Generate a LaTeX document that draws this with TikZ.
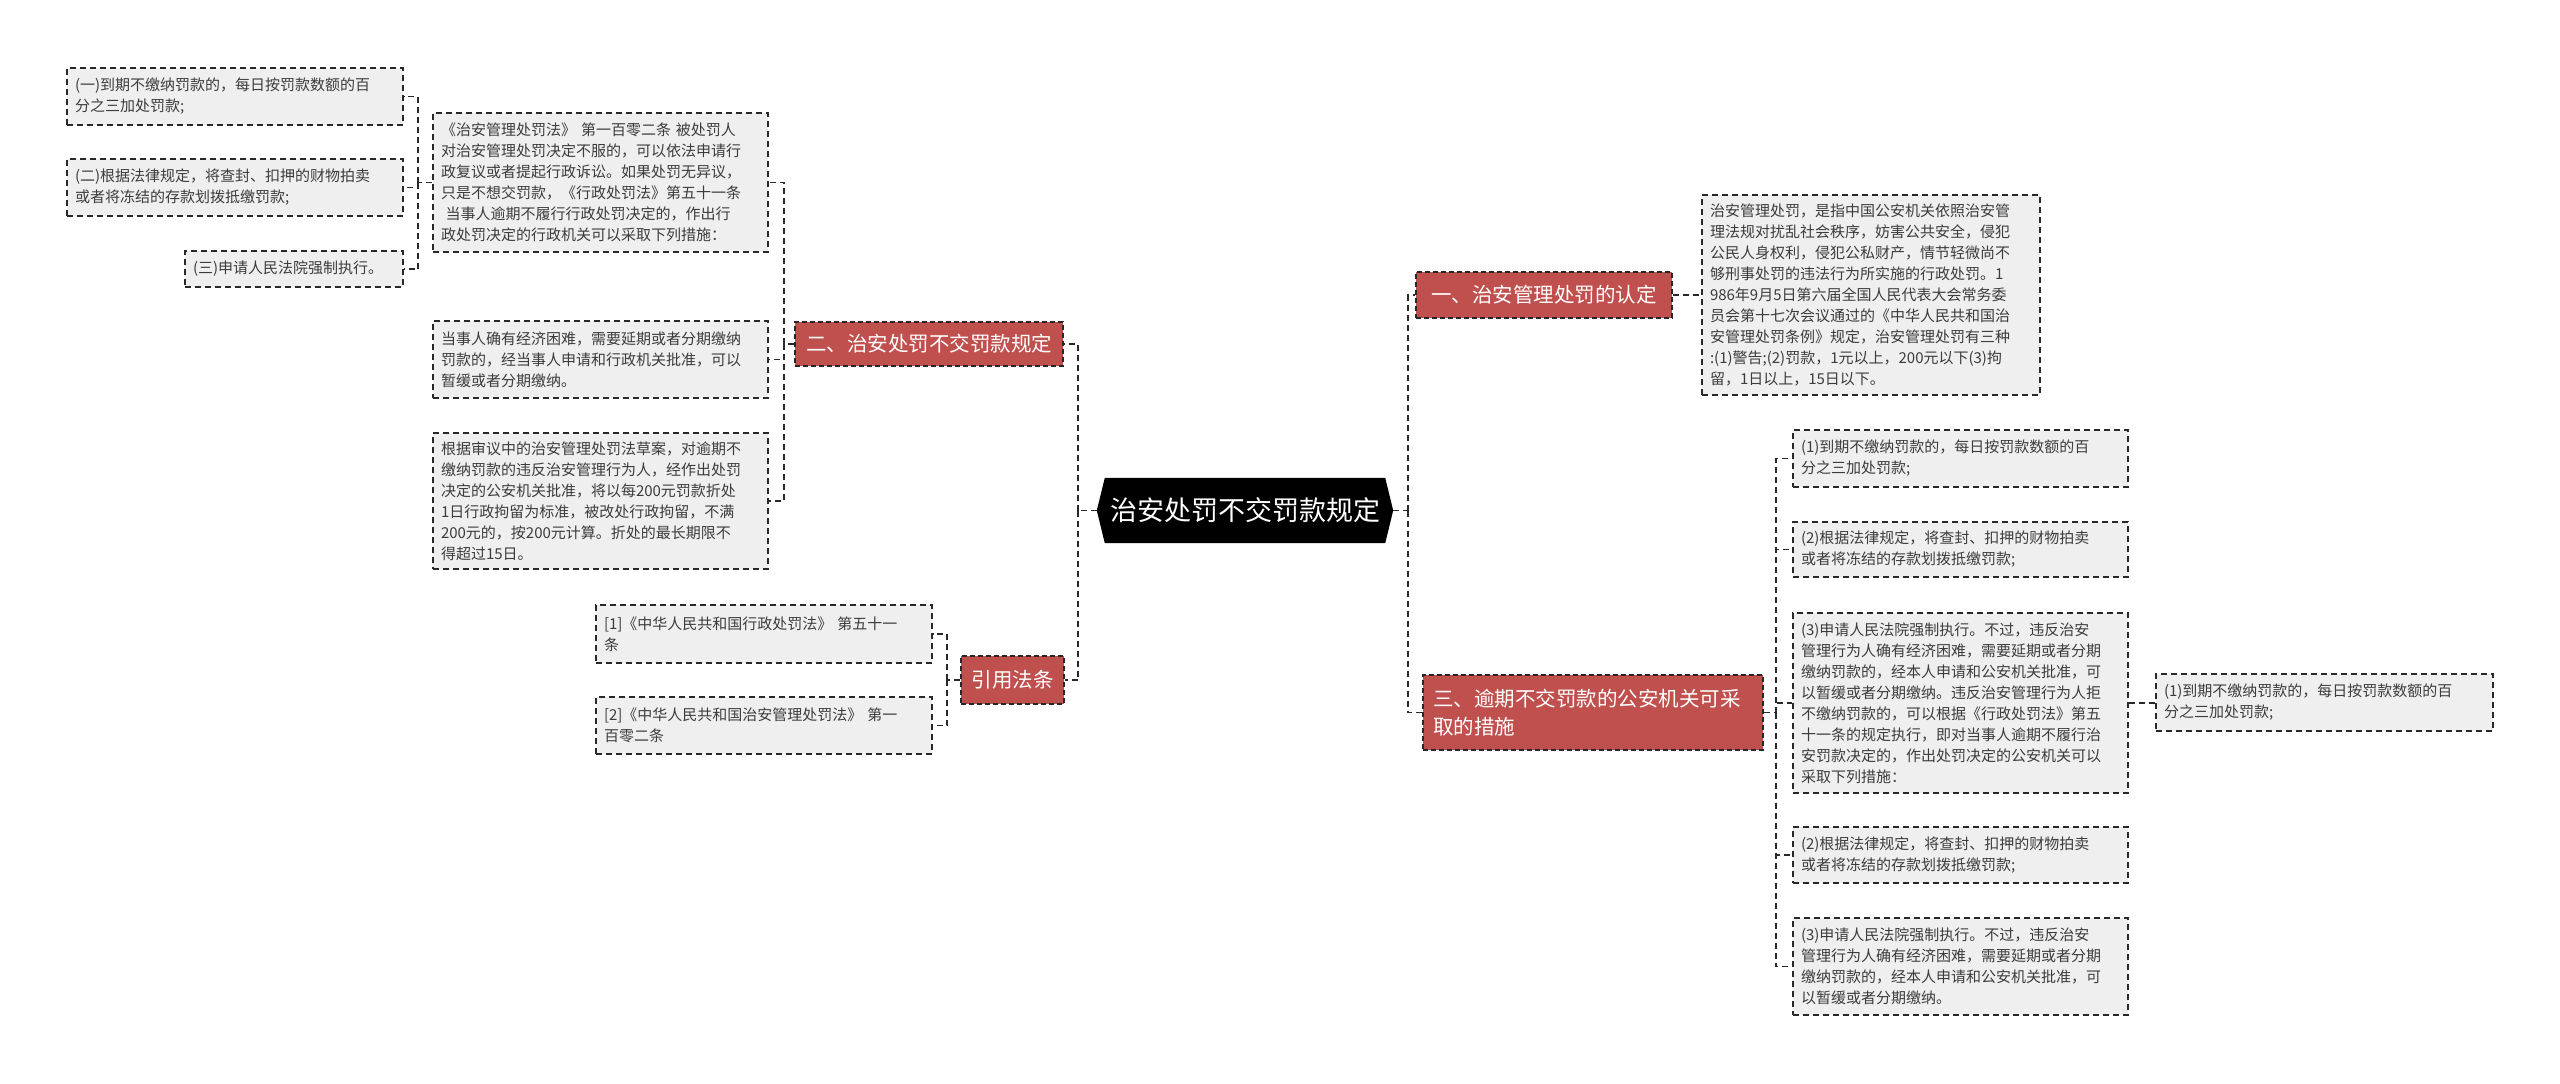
\documentclass[tikz,border=0pt]{standalone}
\usepackage{fontspec}
\setmainfont{Noto Sans CJK SC}
\usetikzlibrary{calc}
\definecolor{redfill}{RGB}{192,80,77}
\definecolor{leaffill}{RGB}{239,239,239}
\definecolor{bordc}{RGB}{40,40,40}
\definecolor{txtc}{RGB}{60,60,60}
\tikzset{
 leaf/.style={rectangle, draw=bordc, line width=1.4pt, dash pattern=on 6pt off 4pt, fill=leaffill, text=txtc, font=\fontsize{15}{21}\selectfont, align=left, inner xsep=8pt, inner ysep=0pt},
 redbox/.style={rectangle, draw=bordc, line width=1.2pt, dash pattern=on 5pt off 3pt, fill=redfill, text=white, font=\fontsize{20.5}{28}\selectfont, align=center, inner xsep=10pt, inner ysep=0pt},
 conn/.style={draw=bordc, line width=1.4pt, dash pattern=on 6pt off 4pt},
}
\begin{document}
\begin{tikzpicture}[x=1pt,y=-1pt]
\fill[white] (0,0) rectangle (2560,1084);
\useasboundingbox (0,0) rectangle (2560,1084);

% root
\node[rectangle, minimum width=296, minimum height=65, inner sep=0pt] (root) at (1245,510.5) {};
\fill[black] (root.west) -- ($(root.north west)+(8,0)$) -- ($(root.north east)+(-8,0)$) -- (root.east) -- ($(root.south east)+(-8,0)$) -- ($(root.south west)+(8,0)$) -- cycle;
\node[text=white, font=\fontsize{27}{32}\selectfont] (roottext) at (root.center) {治安处罚不交罚款规定};

% red nodes
\node[redbox, minimum width=256, minimum height=46] (E1) at (1544,295) {一、治安管理处罚的认定};
\node[redbox, minimum width=268, minimum height=44] (E2) at (929,344) {二、治安处罚不交罚款规定};
\node[redbox, minimum width=103, minimum height=48] (E3) at (1012.5,680) {引用法条};
\node[redbox, minimum width=340, minimum height=75, align=left, text width=320] (E4) at (1593,712.5) {三、逾期不交罚款的公安机关可采\\取的措施};

% far left leaves
\node[leaf, minimum width=336, minimum height=57, text width=320] (L1) at (235,96.5) {(一)到期不缴纳罚款的，每日按罚款数额的百\\分之三加处罚款;};
\node[leaf, minimum width=336, minimum height=57, text width=320] (L2) at (235,187.5) {(二)根据法律规定，将查封、扣押的财物拍卖\\或者将冻结的存款划拨抵缴罚款;};
\node[leaf, minimum width=218, minimum height=36, text width=202] (L3) at (294,269) {(三)申请人民法院强制执行。};

% children of E2
\node[leaf, minimum width=335, minimum height=139, text width=319] (A1) at (600.5,182.5) {《治安管理处罚法》 第一百零二条 被处罚人\\对治安管理处罚决定不服的，可以依法申请行\\政复议或者提起行政诉讼。如果处罚无异议，\\只是不想交罚款，《行政处罚法》第五十一条\\\hspace*{0.3em}当事人逾期不履行行政处罚决定的，作出行\\政处罚决定的行政机关可以采取下列措施：};
\node[leaf, minimum width=335, minimum height=77, text width=319] (A2) at (600.5,359.5) {当事人确有经济困难，需要延期或者分期缴纳\\罚款的，经当事人申请和行政机关批准，可以\\暂缓或者分期缴纳。};
\node[leaf, minimum width=335, minimum height=136, text width=319] (A3) at (600.5,501) {根据审议中的治安管理处罚法草案，对逾期不\\缴纳罚款的违反治安管理行为人，经作出处罚\\决定的公安机关批准，将以每200元罚款折处\\1日行政拘留为标准，被改处行政拘留，不满\\200元的，按200元计算。折处的最长期限不\\得超过15日。};

% children of E3
\node[leaf, minimum width=336, minimum height=58, text width=320] (C1) at (764,634) {[1]《中华人民共和国行政处罚法》 第五十一\\条};
\node[leaf, minimum width=336, minimum height=57, text width=320] (C2) at (764,725.5) {[2]《中华人民共和国治安管理处罚法》 第一\\百零二条};

% child of E1
\node[leaf, minimum width=338, minimum height=200, text width=322] (D) at (1871,295) {治安管理处罚，是指中国公安机关依照治安管\\理法规对扰乱社会秩序，妨害公共安全，侵犯\\公民人身权利，侵犯公私财产，情节轻微尚不\\够刑事处罚的违法行为所实施的行政处罚。1\\986年9月5日第六届全国人民代表大会常务委\\员会第十七次会议通过的《中华人民共和国治\\安管理处罚条例》规定，治安管理处罚有三种\\:(1)警告;(2)罚款，1元以上，200元以下(3)拘\\留，1日以上，15日以下。};

% children of E4
\node[leaf, minimum width=335, minimum height=57, text width=319] (R1) at (1960.5,458.5) {(1)到期不缴纳罚款的，每日按罚款数额的百\\分之三加处罚款;};
\node[leaf, minimum width=335, minimum height=55, text width=319] (R2) at (1960.5,549.5) {(2)根据法律规定，将查封、扣押的财物拍卖\\或者将冻结的存款划拨抵缴罚款;};
\node[leaf, minimum width=335, minimum height=180, text width=319] (R3) at (1960.5,703) {(3)申请人民法院强制执行。不过，违反治安\\管理行为人确有经济困难，需要延期或者分期\\缴纳罚款的，经本人申请和公安机关批准，可\\以暂缓或者分期缴纳。违反治安管理行为人拒\\不缴纳罚款的，可以根据《行政处罚法》第五\\十一条的规定执行，即对当事人逾期不履行治\\安罚款决定的，作出处罚决定的公安机关可以\\采取下列措施：};
\node[leaf, minimum width=335, minimum height=56, text width=319] (R4) at (1960.5,855) {(2)根据法律规定，将查封、扣押的财物拍卖\\或者将冻结的存款划拨抵缴罚款;};
\node[leaf, minimum width=335, minimum height=97, text width=319] (R5) at (1960.5,966.5) {(3)申请人民法院强制执行。不过，违反治安\\管理行为人确有经济困难，需要延期或者分期\\缴纳罚款的，经本人申请和公安机关批准，可\\以暂缓或者分期缴纳。};
\node[leaf, minimum width=337, minimum height=57, text width=321] (F1) at (2324.5,702.5) {(1)到期不缴纳罚款的，每日按罚款数额的百\\分之三加处罚款;};

% spine coordinates
\coordinate (sL) at (1078,510.5);
\coordinate (sR) at (1408,510.5);
\coordinate (s3) at (1776,712.5);
\coordinate (s2) at (784,344);
\coordinate (sA) at (418,182.5);
\coordinate (sC) at (947,680);

% connectors
\draw[conn] (root.west) -- (sL);
\draw[conn] (sL) |- (E2.east);
\draw[conn] (sL) |- (E3.east);
\draw[conn] (root.east) -- (sR);
\draw[conn] (sR) |- (E1.west);
\draw[conn] (sR) |- (E4.west);
\draw[conn] (E1.east) -- (D.west);
\draw[conn] (E4.east) -- (s3);
\draw[conn] (s3) |- (R1.west);
\draw[conn] (s3) |- (R2.west);
\draw[conn] (s3) |- (R3.west);
\draw[conn] (s3) |- (R4.west);
\draw[conn] (s3) |- (R5.west);
\draw[conn] (R3.east) -- (R3.east -| F1.west);
\draw[conn] (E2.west) -- (s2);
\draw[conn] (s2) |- (A1.east);
\draw[conn] (s2) |- (A2.east);
\draw[conn] (s2) |- (A3.east);
\draw[conn] (A1.west) -- (sA);
\draw[conn] (sA) |- (L1.east);
\draw[conn] (sA) |- (L2.east);
\draw[conn] (sA) |- (L3.east);
\draw[conn] (E3.west) -- (sC);
\draw[conn] (sC) |- (C1.east);
\draw[conn] (sC) |- (C2.east);
\end{tikzpicture}
\end{document}
